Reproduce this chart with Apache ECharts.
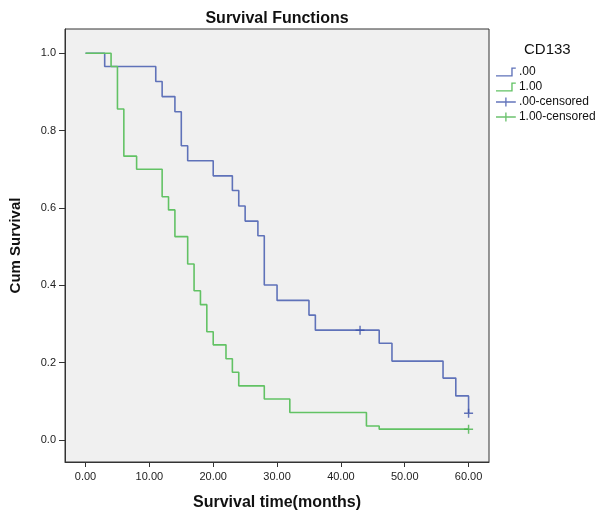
<!DOCTYPE html>
<html>
<head>
<meta charset="utf-8">
<script src="https://cdn.jsdelivr.net/npm/echarts@6/dist/echarts.min.js"></script>
<style>html,body{margin:0;padding:0;background:#fff}#c{width:600px;height:519px}</style>
</head>
<body>
<div id="c"></div>
<script>
const xTicks = [0, 10, 20, 30, 40, 50, 60];
const yTicks = [0, 0.2, 0.4, 0.6, 0.8, 1.0];

const g0Times = [0, 3, 11, 12, 14, 15, 16, 20, 23, 24, 25, 27, 28, 30, 35, 36, 46, 48, 56, 58, 60];
const g0Surv  = [1, 0.966, 0.927, 0.888, 0.849, 0.761, 0.722, 0.683, 0.645, 0.605, 0.566, 0.528, 0.401, 0.361, 0.323, 0.284, 0.250, 0.204, 0.160, 0.114, 0.069];

const g1Times = [0, 4, 5, 6, 8, 12, 13, 14, 16, 17, 18, 19, 20, 22, 23, 24, 28, 32, 44, 46, 60];
const g1Surv  = [1, 0.966, 0.856, 0.734, 0.700, 0.629, 0.595, 0.526, 0.455, 0.386, 0.350, 0.280, 0.246, 0.210, 0.175, 0.140, 0.106, 0.071, 0.036, 0.028, 0.028];

const c0Times = [43, 60];
const c0Surv  = [0.284, 0.069];
const c1Times = [60];
const c1Surv  = [0.028];

const names = ['.00', '1.00', '.00-censored', '1.00-censored'];

const zip = (a, b) => a.map((v, i) => [v, b[i]]);

const stepIcon = 'path://M0,8.5L17,8.5L17,0L22,0L22,1.5L18.5,1.5L18.5,10L0,10Z';
const crossIcon = 'path://M0,4.25L10.25,4.25L10.25,0L11.75,0L11.75,4.25L22,4.25L22,5.75L11.75,5.75L11.75,10L10.25,10L10.25,5.75L0,5.75Z';
const plusSym = 'path://M4.2,0L5.8,0L5.8,4.2L10,4.2L10,5.8L5.8,5.8L5.8,10L4.2,10L4.2,5.8L0,5.8L0,4.2L4.2,4.2Z';

const blue = '#5f72b9';
const green = '#62c264';
const blueC = '#3d52aa';
const greenC = '#47b34a';

const chart = echarts.init(document.getElementById('c'), null, {renderer: 'canvas'});
chart.setOption({
  animation: false,
  backgroundColor: '#ffffff',
  textStyle: {fontFamily: 'Liberation Sans, Arial, sans-serif'},
  title: [
    {text: 'Survival Functions', left: 272, top: 6, textAlign: 'center',
     textStyle: {fontSize: 16, fontWeight: 'bold', color: '#111', fontFamily: 'Liberation Sans'}},
    {text: 'CD133', left: 519, top: 37,
     textStyle: {fontSize: 15, fontWeight: 'normal', color: '#111', fontFamily: 'Liberation Sans'}}
  ],
  legend: {
    orient: 'vertical', left: 491, top: 61, itemWidth: 22, itemHeight: 9, itemGap: 3,
    textStyle: {fontSize: 12, color: '#111', fontFamily: 'Liberation Sans', padding: [0,0,0,-3]},
    data: [
      {name: names[0], icon: stepIcon},
      {name: names[1], icon: stepIcon},
      {name: names[2], icon: crossIcon},
      {name: names[3], icon: crossIcon}
    ]
  },
  grid: {left: 55, right: 111, top: 29, bottom: 57, show: true,
         backgroundColor: '#f0f0f0', borderColor: '#333', borderWidth: 1},
  xAxis: {
    type: 'value', min: -3.217, max: 63.2,
    name: 'Survival time(months)', nameLocation: 'middle', nameGap: 33,
    nameTextStyle: {fontSize: 16, fontWeight: 'bold', color: '#111', fontFamily: 'Liberation Sans'},
    axisLine: {show: true, onZero: false, lineStyle: {color: '#333'}},
    axisTick: {show: true, length: 5, customValues: xTicks, lineStyle: {color: '#333'}},
    axisLabel: {customValues: xTicks, formatter: v => v.toFixed(2), fontSize: 11, color: '#222', margin: 9},
    splitLine: {show: false}
  },
  yAxis: {
    type: 'value', min: -0.0569, max: 1.0628,
    name: 'Cum Survival', nameLocation: 'middle', nameGap: 42,
    nameTextStyle: {fontSize: 15, fontWeight: 'bold', color: '#111', fontFamily: 'Liberation Sans'},
    axisLine: {show: true, onZero: false, lineStyle: {color: '#333'}},
    axisTick: {show: true, length: 6, customValues: yTicks, lineStyle: {color: '#333'}},
    axisLabel: {customValues: yTicks, formatter: v => v.toFixed(1), fontSize: 11, color: '#222', margin: 9},
    splitLine: {show: false}
  },
  series: [
    {name: names[0], type: 'line', step: 'end', data: zip(g0Times, g0Surv), showSymbol: false,
     lineStyle: {color: blue, width: 1.6}, itemStyle: {color: blue}, z: 3},
    {name: names[1], type: 'line', step: 'end', data: zip(g1Times, g1Surv), showSymbol: false,
     lineStyle: {color: green, width: 1.6}, itemStyle: {color: green}, z: 3},
    {name: names[2], type: 'scatter', data: zip(c0Times, c0Surv), symbol: plusSym, symbolSize: 9,
     itemStyle: {color: blueC}, z: 4},
    {name: names[3], type: 'scatter', data: zip(c1Times, c1Surv), symbol: plusSym, symbolSize: 9,
     itemStyle: {color: greenC}, z: 4}
  ]
});
</script>
</body>
</html>
